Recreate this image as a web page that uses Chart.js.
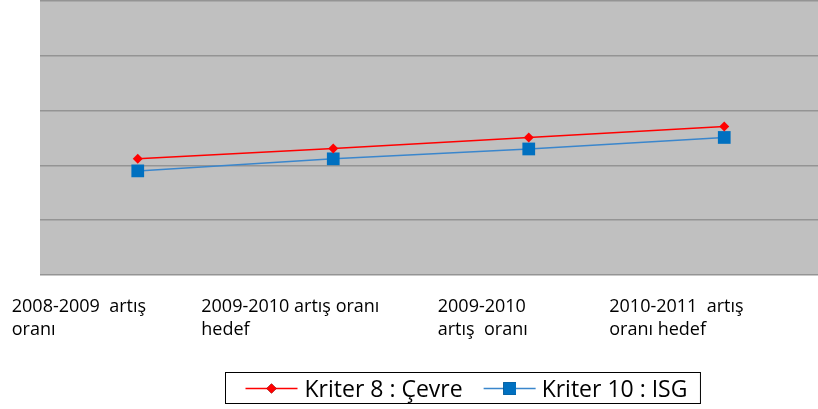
<!DOCTYPE html>
<html>
<head>
<meta charset="utf-8">
<script src="https://cdn.jsdelivr.net/npm/chart.js@4.4.0/dist/chart.umd.min.js"></script>
<style>
  html, body { margin: 0; padding: 0; background: #fff; overflow: hidden; }
  #wrap { width: 830px; height: 409px; }
</style>
</head>
<body>
<div id="wrap"><canvas id="grafik" width="830" height="409"></canvas></div>
<script>
const kategoriler = [
  ['2008-2009  artış', 'oranı'],
  ['2009-2010 artış oranı', 'hedef'],
  ['2009-2010', 'artış  oranı'],
  ['2010-2011  artış', 'oranı hedef']
];
const kriter8 = [2.12, 2.31, 2.51, 2.71];
const kriter10 = [1.90, 2.12, 2.30, 2.51];
const seriAdlari = ['Kriter 8 : Çevre', 'Kriter 10 : ISG'];

const yaziFont = '"Open Sans", sans-serif';

// gri çizim alanı
const arkaPlan = {
  id: 'arkaPlan',
  beforeDraw(chart) {
    const { ctx, chartArea: a } = chart;
    ctx.save();
    ctx.fillStyle = '#c0c0c0';
    ctx.fillRect(a.left, a.top, a.right - a.left, a.bottom - a.top);
    ctx.restore();
  }
};

// x etiketleri (Excel gibi sola yaslı, iki satır)
const etiketKaydir = [-126, -132, -91, -115];
const xEtiketleri = {
  id: 'xEtiketleri',
  afterDraw(chart) {
    const { ctx } = chart;
    const x = chart.scales.x;
    ctx.save();
    ctx.font = '18px ' + yaziFont;
    ctx.fillStyle = '#000';
    ctx.textAlign = 'left';
    ctx.textBaseline = 'alphabetic';
    kategoriler.forEach((satirlar, i) => {
      const px = x.getPixelForValue(i) + etiketKaydir[i];
      satirlar.forEach((s, j) => ctx.fillText(s, px, 312 + j * 23));
    });
    ctx.restore();
  }
};

// çerçeveli açıklama
const aciklama = {
  id: 'aciklama',
  afterDraw(chart) {
    const { ctx } = chart;
    ctx.save();
    ctx.font = '23px ' + yaziFont;
    const w1 = ctx.measureText(seriAdlari[0]).width;
    const w2 = ctx.measureText(seriAdlari[1]).width;
    const cizgi = 52;
    const toplam = 20 + cizgi + 7 + w1 + 21 + cizgi + 6 + w2 + 13;
    const sol = Math.round(462 - toplam / 2) + 0.5;
    const ust = 372.5, yuk = 31;
    const yOrta = 388.5;

    ctx.strokeStyle = '#000';
    ctx.lineWidth = 1;
    ctx.strokeRect(sol, ust, toplam, yuk);

    const ds = chart.data.datasets;
    let cx = sol + 20;
    [w1, w2].forEach((w, i) => {
      const d = ds[i];
      ctx.strokeStyle = d.borderColor;
      ctx.lineWidth = 1.5;
      ctx.beginPath();
      ctx.moveTo(cx, yOrta);
      ctx.lineTo(cx + cizgi, yOrta);
      ctx.stroke();
      Chart.helpers.drawPoint(ctx, {
        pointStyle: d.pointStyle,
        radius: d.pointRadius,
        rotation: 0,
        borderWidth: 0
      }, cx + cizgi / 2, yOrta);
      ctx.fillStyle = d.pointBackgroundColor;
      ctx.fill();
      ctx.fillStyle = '#000';
      ctx.textBaseline = 'alphabetic';
      ctx.fillText(seriAdlari[i], cx + cizgi + (i === 0 ? 7 : 6), 397);
      cx += cizgi + 7 + w + 21;
    });
    ctx.restore();
  }
};

new Chart(document.getElementById('grafik'), {
  type: 'line',
  data: {
    labels: kategoriler.map(k => k.join(' ')),
    datasets: [
      {
        label: seriAdlari[0],
        data: kriter8,
        borderColor: '#ff0000',
        backgroundColor: '#ff0000',
        pointBackgroundColor: '#ff0000',
        pointBorderColor: '#ff0000',
        borderWidth: 1.5,
        pointStyle: 'rectRot',
        pointRadius: 5,
        pointBorderWidth: 0,
        tension: 0
      },
      {
        label: seriAdlari[1],
        data: kriter10,
        borderColor: '#3a86cc',
        backgroundColor: '#0070c0',
        pointBackgroundColor: '#0070c0',
        pointBorderColor: '#0070c0',
        borderWidth: 1.5,
        pointStyle: 'rect',
        pointRadius: 9,
        pointBorderWidth: 0,
        tension: 0
      }
    ]
  },
  options: {
    responsive: false,
    animation: false,
    layout: { autoPadding: false, padding: { left: 40, right: 8, top: 1, bottom: 126 } },
    plugins: {
      legend: { display: false },
      tooltip: { enabled: false }
    },
    scales: {
      x: {
        offset: true,
        grid: { display: false },
        border: { display: false },
        ticks: { display: false }
      },
      y: {
        min: 0,
        max: 5,
        ticks: { display: false, stepSize: 1 },
        grid: { color: '#949494', lineWidth: 1.5, drawTicks: false },
        border: { display: false }
      }
    }
  },
  plugins: [arkaPlan, xEtiketleri, aciklama]
});
</script>
</body>
</html>
